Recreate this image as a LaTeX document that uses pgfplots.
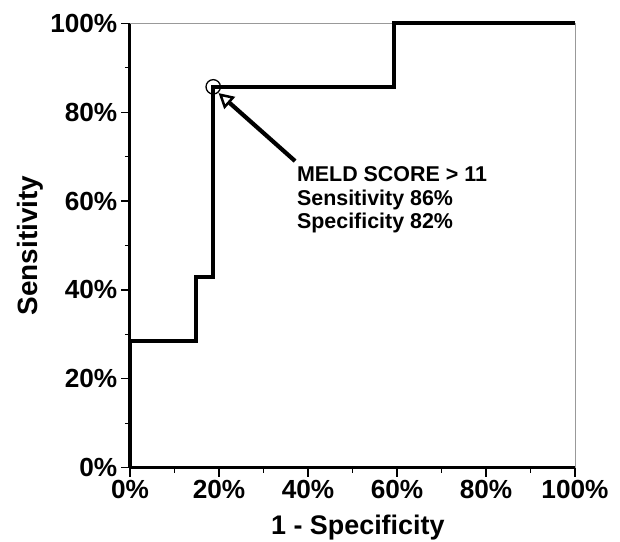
\documentclass[border=0pt]{standalone}
\usepackage{pgfplots}
\pgfplotsset{compat=1.18}
\usepackage{fontspec}
\setmainfont{Liberation Sans}
\usetikzlibrary{arrows.meta}
\begin{document}
\begin{tikzpicture}
\useasboundingbox (-130bp,-74.3bp) rectangle (490bp,467.7bp);
\begin{axis}[
  at={(0,0)}, anchor=south west,
  scale only axis, width=445bp, height=444.4bp,
  xmin=0, xmax=100, ymin=0, ymax=100,
  clip=false,
  axis x line*=bottom, axis y line*=left,
  axis line style={line width=3bp, black, -},
  tick align=outside,
  major tick length=9bp, minor tick length=5bp,
  tick style={line width=1.2bp, black},
  xtick={0,20,40,60,80,100}, ytick={0,20,40,60,80,100},
  minor xtick={10,30,50,70,90}, minor ytick={10,30,50,70,90},
  xticklabels={0\%,20\%,40\%,60\%,80\%,100\%},
  yticklabels={0\%,20\%,40\%,60\%,80\%,100\%},
  tick label style={font=\fontsize{26.3}{26.3}\selectfont\bfseries, inner sep=3.5bp},
  xlabel={1 - Specificity}, ylabel={Sensitivity},
  xlabel style={font=\fontsize{27}{27}\selectfont\bfseries, at={(axis description cs:0.512,-0.151)}, anchor=base},
  ylabel style={font=\fontsize{28}{28}\selectfont\bfseries, at={(axis description cs:-0.207,0.5)}, anchor=base},
]
\draw[line width=0.9bp, gray!80] (rel axis cs:0,1) -- (rel axis cs:1,1) -- (rel axis cs:1,0);
\addplot[line width=3.8bp, black, line join=miter] coordinates {
  (0,0) (0,28.6) (14.8,28.6) (14.8,42.9) (18.7,42.9) (18.7,85.7)
  (59.3,85.7) (59.3,100) (100,100)};
\addplot[only marks, mark=o, mark size=7.2bp, mark options={line width=1.3bp, black}] coordinates {(18.7,85.7)};
\draw[line width=4.2bp, -{Triangle[open, length=15bp, width=16bp, line width=2.5bp]}] (axis cs:37.1,69.0) -- (axis cs:19.9,84.3);
\node[anchor=base west, inner sep=0, font=\fontsize{21.5}{21.5}\selectfont\bfseries] at (axis cs:37.5,64.3) {MELD SCORE > 11};
\node[anchor=base west, inner sep=0, font=\fontsize{21.5}{21.5}\selectfont\bfseries] at (axis cs:37.5,59.1) {Sensitivity 86\%};
\node[anchor=base west, inner sep=0, font=\fontsize{21.5}{21.5}\selectfont\bfseries] at (axis cs:37.5,53.9) {Specificity 82\%};
\end{axis}
\end{tikzpicture}
\end{document}
